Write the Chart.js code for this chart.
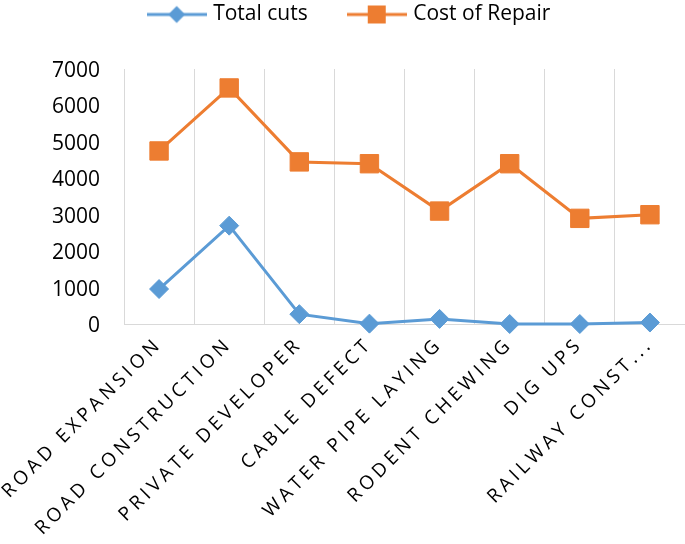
<!DOCTYPE html>
<html>
<head>
<meta charset="utf-8">
<script src="https://cdn.jsdelivr.net/npm/chart.js@4"></script>
<style>
html,body{margin:0;padding:0;background:#fff;overflow:hidden;}
#wrap{width:685px;height:544px;overflow:hidden;}
canvas{display:block;}
</style>
</head>
<body>
<div id="wrap"><canvas id="c" width="685" height="544"></canvas></div>
<script>
const categories = ['ROAD EXPANSION','ROAD CONSTRUCTION','PRIVATE DEVELOPER','CABLE DEFECT','WATER PIPE LAYING','RODENT CHEWING','DIG UPS','RAILWAY CONST...'];
const totalCuts = [960, 2700, 270, 10, 140, 0, 0, 40];
const costOfRepair = [4750, 6480, 4450, 4400, 3100, 4400, 2900, 3000];
const yMin = 0, yMax = 7000, yStep = 1000;

const BLUE = '#5B9BD5', ORANGE = '#ED7D31';
const FONT = "'Open Sans', sans-serif";

function legendIcon(color, style){
  const cv = document.createElement('canvas');
  cv.width = 60; cv.height = 22;
  const g = cv.getContext('2d');
  g.strokeStyle = color; g.lineWidth = 3;
  g.beginPath(); g.moveTo(0, 11); g.lineTo(60, 11); g.stroke();
  g.fillStyle = color;
  g.beginPath();
  if (style === 'diamond') {
    g.moveTo(30, 2.5); g.lineTo(38.5, 11); g.lineTo(30, 19.5); g.lineTo(21.5, 11); g.closePath();
  } else {
    g.rect(21, 2, 18, 18);
  }
  g.fill();
  return cv;
}
const icons = [legendIcon(BLUE,'diamond'), legendIcon(ORANGE,'square')];

const LS = '4px';
new Chart(document.getElementById('c'), {
  type: 'line',
  data: {
    labels: categories,
    datasets: [
      { label: 'Total cuts', data: totalCuts, borderColor: BLUE, backgroundColor: BLUE,
        borderWidth: 3, pointStyle: 'rectRot', pointRadius: 9.5, pointBorderWidth: 1,
        pointBackgroundColor: BLUE, pointBorderColor: BLUE, tension: 0, clip: false },
      { label: 'Cost of Repair', data: costOfRepair, borderColor: ORANGE, backgroundColor: ORANGE,
        borderWidth: 3, pointStyle: 'rect', pointRadius: 13, pointBorderWidth: 1,
        pointBackgroundColor: ORANGE, pointBorderColor: ORANGE, tension: 0, clip: false }
    ]
  },
  options: {
    responsive: false,
    animation: false,
    layout: { autoPadding: false, padding: { top: -39, left: 0, right: 0, bottom: 0 } },
    plugins: {
      tooltip: { enabled: false },
      legend: {
        position: 'top',
        labels: {
          usePointStyle: true,
          pointStyleWidth: 52,
          padding: 43,
          color: '#000',
          font: { family: FONT, size: 21 },
          generateLabels: (chart) => chart.data.datasets.map((ds, i) => ({
            text: ds.label, pointStyle: icons[i], fillStyle: ds.borderColor,
            strokeStyle: ds.borderColor, lineWidth: 0, hidden: false, datasetIndex: i, fontColor: '#000'
          }))
        }
      }
    },
    scales: {
      x: {
        offset: true,
        grid: { display: true, offset: true, drawTicks: false, color: '#D9D9D9', lineWidth: 1 },
        border: { display: true, color: '#D9D9D9', width: 1 },
        ticks: { autoSkip: false, maxRotation: 45, minRotation: 45, padding: 9, color: '#000',
                 font: { family: FONT, size: 19 } },
        beforeUpdate: (s) => { s.ctx.letterSpacing = LS; },
        afterUpdate: (s) => {
          s.ctx.letterSpacing = '0px';
          if (!s._lsPatched) {
            s._lsPatched = true;
            const proto = Object.getPrototypeOf(s);
            s.drawLabels = function(area){
              this.ctx.save();
              this.ctx.letterSpacing = LS;
              proto.drawLabels.call(this, area);
              this.ctx.restore();
            };
          }
        },
        afterFit: (s) => { s.height = 220; s.paddingLeft = 0; s.paddingRight = 0; }
      },
      y: {
        min: yMin, max: yMax,
        grid: { display: false },
        border: { display: false },
        ticks: { stepSize: yStep, padding: 16, labelOffset: 2, color: '#000', font: { family: FONT, size: 21 },
                 callback: (v) => String(v) },
        afterFit: (s) => { s.width = 124; s.paddingTop = 0; s.paddingBottom = 0; }
      }
    }
  },
  plugins: [{
    id: 'legendHeight',
    afterInit(chart){
      const lg = chart.legend;
      if (lg) {
        const orig = lg.fit.bind(lg);
        lg.fit = function(){ orig(); this.height = 108; };
      }
    },
    afterLayout(chart){
      const lg = chart.legend;
      if (lg) { lg.left += 8; lg.right += 8; }
    }
  }]
});
</script>
</body>
</html>
